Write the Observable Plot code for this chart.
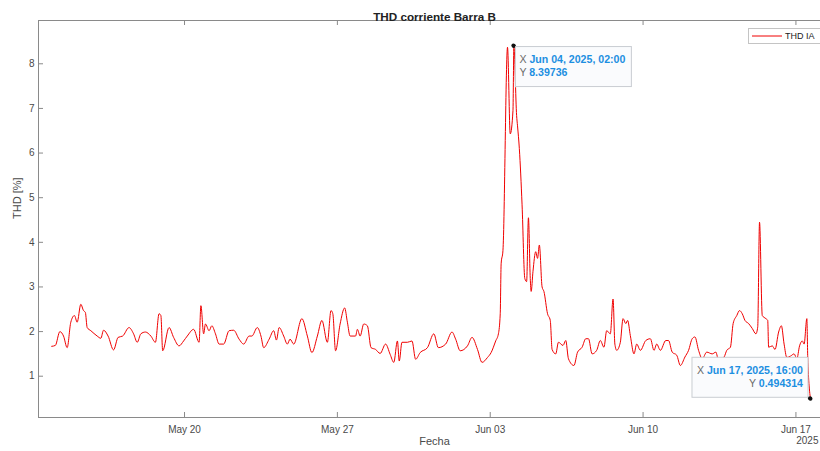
<!DOCTYPE html>
<html>
<head>
<meta charset="utf-8">
<script src="https://cdn.jsdelivr.net/npm/d3@7"></script>
<script src="https://cdn.jsdelivr.net/npm/@observablehq/plot@0.6"></script>
<style>
  html, body { margin: 0; padding: 0; background: #fff; overflow: hidden; }
  #chart { width: 820px; height: 451px; overflow: hidden; }
  #chart svg { display: block; overflow: hidden; }
</style>
</head>
<body>
<div id="chart"></div>
<script>
// Texts
const title = "THD corriente Barra B";
const xLabel = "Fecha";
const yLabel = "THD [%]";
const seriesName = "THD IA";
const yearLabel = "2025";

// Hourly THD of phase A current, hours counted from the start date
const startDate = "2025-05-13T00:00Z";
const hours = [
  22, 26, 31, 35, 39, 43, 47, 50, 54, 57, 59, 61, 65, 72, 76, 79, 84, 90, 95, 100,
  107, 112, 116, 120, 125, 131, 136, 140, 142, 144, 151, 156, 162, 167, 171, 178, 184, 186, 189, 191,
  195, 198, 202, 206, 211, 217, 222, 228, 233, 239, 242, 248, 252, 255, 261, 266, 269, 272, 277, 281,
  284, 288, 297, 303, 308, 314, 319, 325, 329, 331, 334, 339, 344, 347, 350, 356, 358, 361, 365, 369,
  373, 378, 383, 389, 394, 398, 402, 404, 407, 413, 418, 422, 427, 435, 442, 447, 455, 462, 466, 471,
  479, 484, 490, 495, 501, 505, 510, 513, 515, 516, 518, 523, 526, 529, 530, 533, 534, 536, 539, 542,
  544, 546, 548, 549, 551, 554, 556, 558, 561, 563, 567, 570, 572, 576, 579, 584, 587, 590, 596, 600,
  605, 609, 612, 616, 621, 625, 629, 632, 636, 639, 641, 643, 647, 650, 653, 655, 658, 662, 665, 669,
  675, 680, 684, 687, 691, 697, 700, 704, 709, 713, 718, 722, 726, 729, 733, 737, 742, 748, 752, 755,
  761, 764, 768, 771, 775, 778, 781, 784, 788, 792, 796, 798, 800, 803, 807, 809, 810, 814, 817, 821,
  824, 827, 830, 834, 838, 841, 844, 847, 849, 852, 853, 856
];
const thd = [
  1.67, 1.69, 2.00, 1.90, 1.64, 2.21, 2.36, 2.21, 2.61, 2.47, 2.43, 2.09, 2.02, 1.90, 1.85, 2.03, 1.90, 1.59, 1.87, 1.90,
  2.09, 1.95, 1.76, 1.95, 1.99, 1.90, 1.76, 2.40, 2.36, 1.57, 2.09, 1.87, 1.68, 1.79, 1.90, 2.05, 1.76, 2.58, 1.95, 2.17,
  2.02, 2.13, 1.95, 1.72, 1.72, 2.02, 2.03, 1.83, 1.72, 1.90, 1.90, 2.09, 1.90, 1.64, 1.83, 2.02, 1.81, 2.09, 1.90, 1.72,
  1.83, 1.72, 2.29, 1.90, 1.53, 1.90, 2.25, 1.76, 2.47, 2.40, 1.57, 2.17, 2.53, 2.21, 1.90, 1.90, 2.05, 1.90, 2.17, 2.13,
  1.64, 1.60, 1.51, 1.72, 1.49, 1.31, 1.79, 1.34, 1.76, 1.76, 1.79, 1.38, 1.53, 1.64, 1.95, 1.64, 1.72, 1.99, 1.83, 1.57,
  1.68, 1.87, 1.60, 1.31, 1.42, 1.53, 1.79, 1.95, 2.40, 3.52, 3.82, 8.37, 6.43, 6.95, 8.39736, 6.84, 6.61, 6.10, 4.84, 3.19,
  3.12, 4.55, 3.19, 2.90, 3.35, 3.79, 3.64, 3.94, 3.00, 2.90, 2.40, 2.25, 1.60, 1.50, 1.76, 1.69, 1.80, 1.39, 1.24, 1.54,
  1.65, 1.84, 1.84, 1.50, 1.58, 1.80, 1.65, 2.02, 1.95, 2.73, 1.72, 1.58, 1.76, 2.29, 2.18, 2.25, 1.91, 1.50, 1.72, 1.58,
  1.80, 1.84, 1.58, 1.72, 1.58, 1.80, 1.80, 1.54, 1.47, 1.24, 1.43, 1.58, 1.84, 1.88, 1.58, 1.39, 1.54, 1.50, 1.54, 1.35,
  1.43, 1.58, 1.65, 2.18, 2.36, 2.47, 2.40, 2.25, 2.18, 2.07, 1.95, 2.10, 4.45, 2.36, 2.29, 2.25, 1.65, 1.68, 1.60, 1.99,
  2.13, 1.72, 1.42, 1.45, 1.50, 1.39, 1.68, 1.79, 1.72, 2.29, 1.42, 0.494314
];

// Axes
const xTicks = ["2025-05-20", "2025-05-27", "2025-06-03", "2025-06-10", "2025-06-17"];
const yTicks = [1, 2, 3, 4, 5, 6, 7, 8];
const xDomain = ["2025-05-13T07:30Z", "2025-06-18T14:00Z"];
const yDomain = [0.075, 8.97];

// ---- build table ----
const t0 = new Date(startDate).getTime();
const data = hours.map((h, i) => ({ date: new Date(t0 + h * 3600e3), thd: thd[i] }));
const peak = data.reduce((a, b) => (b.thd > a.thd ? b : a));
const last = data[data.length - 1];
const xTickDates = xTicks.map(d => new Date(d));

// ---- layout ----
const W = 820, H = 451;
const mL = 38, mR = -10, mT = 20, mB = 34;   // axes box runs a little past the right edge
const plotW = W - mR - mL, plotH = H - mT - mB;
const axisColor = "#8a8a8a";
const textColor = "#4a4a4a";
const lineColor = "#f00000";
const tipBlue = "#1d8fe1";
const font = "'Liberation Sans', Arial, Helvetica, sans-serif";

const chart = Plot.plot({
  width: W, height: H,
  marginLeft: mL, marginRight: mR, marginTop: mT, marginBottom: mB,
  style: { fontFamily: font, fontSize: "10px", color: textColor, background: "#fff", overflow: "hidden" },
  x: {
    type: "utc", domain: xDomain.map(d => new Date(d)), ticks: xTickDates,
    tickFormat: d3.utcFormat("%b %d"), tickSize: 0, tickPadding: 8, label: null
  },
  y: { domain: yDomain, ticks: yTicks, tickSize: 0, tickPadding: 4, label: null },
  marks: [
    Plot.frame({ stroke: axisColor }),
    // inward tick marks (bottom, top, left)
    Plot.tickX(xTickDates, { x: d => d, stroke: axisColor, insetTop: plotH - 5 }),
    Plot.tickX(xTickDates, { x: d => d, stroke: axisColor, insetBottom: plotH - 5 }),
    Plot.tickY(yTicks, { y: d => d, stroke: axisColor, insetRight: plotW - 5 }),
    // series
    Plot.line(data, { x: "date", y: "thd", stroke: lineColor, strokeWidth: 1, curve: "monotone-x" }),
    Plot.dot([peak, last], { x: "date", y: "thd", r: 2, fill: "#111", stroke: "none" }),
    // titles
    Plot.text([title], { text: d => d, frameAnchor: "top", dy: -8, fontWeight: "bold", fontSize: 11.7, fill: "#222" }),
    Plot.text([xLabel], { text: d => d, frameAnchor: "bottom", dy: 27, fontSize: 11, fill: textColor }),
    Plot.text([yLabel], { text: d => d, frameAnchor: "left", dx: -21, rotate: -90, fontSize: 11, fill: textColor }),
    Plot.text([yearLabel], { text: d => d, frameAnchor: "bottom-right", dx: -12, dy: 26, textAnchor: "end", fontSize: 10, fill: textColor })
  ]
});

document.getElementById("chart").appendChild(chart);

// ---- data tips and legend drawn on top using the plot's scales ----
const svg = d3.select(chart);
const sx = chart.scale("x"), sy = chart.scale("y");
const fmtDate = d3.utcFormat("%b %d, %Y, %H:%M");
const tipW = 116, tipH = 40;

function dataTip(d, side) {
  const px = sx.apply(d.date), py = sy.apply(d.thd);
  const g = svg.append("g").attr("font-family", font).attr("font-size", 10.6);
  let bx, by, tx, anchor;
  if (side === "right") { bx = px + 2; by = py + 1; tx = bx + 4; anchor = "start"; }
  else { bx = px - 2 - tipW; by = py - 1 - tipH; tx = bx + tipW - 5; anchor = "end"; }
  g.append("rect").attr("x", bx).attr("y", by).attr("width", tipW).attr("height", tipH)
    .attr("fill", "#fafbfd").attr("stroke", "#c9cdd2").attr("stroke-width", 1);
  const lines = [["X ", fmtDate(d.date)], ["Y ", String(d.thd)]];
  lines.forEach(([k, v], i) => {
    const t = g.append("text").attr("x", tx).attr("y", by + 13 + i * 13)
      .attr("dy", "0.35em").attr("text-anchor", anchor);
    t.append("tspan").attr("fill", "#6a6a6a").text(k);
    t.append("tspan").attr("fill", tipBlue).attr("font-weight", "bold").text(v);
  });
  // keep the marker above the box
  g.append("circle").attr("cx", px).attr("cy", py).attr("r", 2).attr("fill", "#111");
}
dataTip(peak, "right");
dataTip(last, "left");

// legend box in the upper right corner
const lg = svg.append("g").attr("font-family", font);
lg.append("rect").attr("x", 748.5).attr("y", 28.5).attr("width", 90).attr("height", 15)
  .attr("fill", "#fff").attr("stroke", "#c4c4c4");
lg.append("line").attr("x1", 752).attr("x2", 782).attr("y1", 36).attr("y2", 36)
  .attr("stroke", lineColor).attr("stroke-width", 1);
lg.append("text").attr("x", 785).attr("y", 36).attr("dy", "0.35em").attr("text-anchor", "start")
  .attr("font-size", 9).attr("fill", "#222").text(seriesName);
</script>
</body>
</html>
